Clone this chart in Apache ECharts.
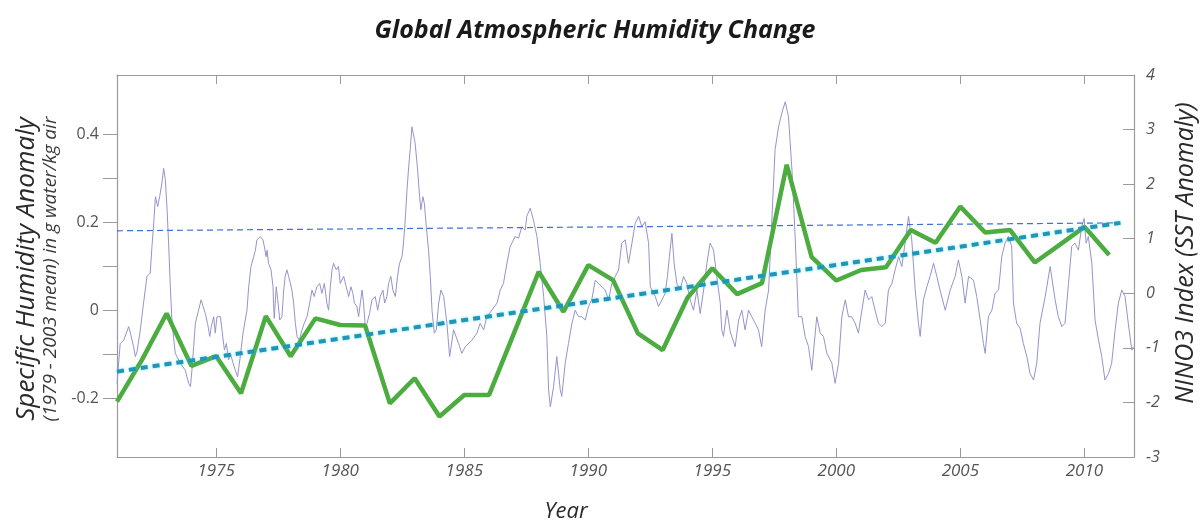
<!DOCTYPE html>
<html>
<head>
<meta charset="utf-8">
<script src="https://cdn.jsdelivr.net/npm/echarts@6/dist/echarts.min.js"></script>
<style>html,body{margin:0;padding:0;background:#fff}#c{width:1203px;height:525px}</style>
</head>
<body>
<div id="c"></div>
<script>
// Annual global specific humidity anomaly (left axis, g/kg)
var humidityYears = [1971,1972,1973,1974,1975,1976,1977,1978,1979,1980,1981,1982,1983,1984,1985,1986,1987,1988,1989,1990,1991,1992,1993,1994,1995,1996,1997,1998,1999,2000,2001,2002,2003,2004,2005,2006,2007,2008,2009,2010,2011];
var humidityValues = [-0.208,-0.114,-0.008,-0.127,-0.105,-0.189,-0.014,-0.105,-0.019,-0.034,-0.035,-0.212,-0.155,-0.242,-0.193,-0.193,-0.053,0.087,-0.004,0.102,0.068,-0.053,-0.091,0.028,0.095,0.036,0.061,0.330,0.121,0.067,0.091,0.097,0.182,0.153,0.235,0.176,0.182,0.108,0.148,0.189,0.125];

// NINO3 index (right axis, SST anomaly)
var ninoTime = [1971.00,1971.13,1971.27,1971.47,1971.54,1971.67,1971.74,1971.81,1971.94,1972.07,1972.21,1972.34,1972.41,1972.48,1972.55,1972.64,1972.72,1972.81,1972.88,1972.95,1973.02,1973.08,1973.15,1973.22,1973.35,1973.55,1973.75,1973.89,1973.96,1974.02,1974.09,1974.16,1974.22,1974.29,1974.39,1974.47,1974.56,1974.65,1974.74,1974.80,1974.90,1974.96,1975.03,1975.17,1975.23,1975.33,1975.41,1975.50,1975.57,1975.68,1975.77,1975.86,1975.97,1976.08,1976.17,1976.24,1976.31,1976.40,1976.51,1976.58,1976.64,1976.78,1976.88,1976.94,1977.01,1977.05,1977.11,1977.21,1977.29,1977.31,1977.34,1977.42,1977.48,1977.56,1977.65,1977.72,1977.78,1977.85,1977.92,1977.99,1978.05,1978.12,1978.19,1978.26,1978.35,1978.46,1978.55,1978.66,1978.77,1978.86,1978.95,1979.06,1979.17,1979.26,1979.36,1979.46,1979.53,1979.60,1979.67,1979.73,1979.84,1979.93,1980.00,1980.14,1980.24,1980.34,1980.43,1980.51,1980.57,1980.67,1980.74,1980.81,1980.88,1980.94,1981.01,1981.08,1981.18,1981.28,1981.41,1981.51,1981.61,1981.72,1981.79,1981.88,1981.95,1982.04,1982.12,1982.22,1982.31,1982.39,1982.49,1982.55,1982.62,1982.69,1982.76,1982.82,1982.89,1982.96,1983.02,1983.12,1983.20,1983.25,1983.33,1983.39,1983.47,1983.56,1983.63,1983.70,1983.79,1983.87,1983.97,1984.06,1984.17,1984.30,1984.41,1984.57,1984.77,1984.90,1985.04,1985.31,1985.51,1985.64,1985.78,1985.91,1986.11,1986.32,1986.45,1986.58,1986.72,1986.85,1986.92,1987.05,1987.19,1987.32,1987.46,1987.52,1987.66,1987.79,1987.93,1988.06,1988.20,1988.33,1988.40,1988.47,1988.60,1988.73,1988.87,1988.93,1989.07,1989.20,1989.34,1989.47,1989.61,1989.74,1989.88,1990.01,1990.14,1990.28,1990.41,1990.55,1990.68,1990.82,1990.95,1991.22,1991.35,1991.49,1991.62,1991.76,1991.89,1992.03,1992.16,1992.29,1992.43,1992.50,1992.70,1992.83,1992.97,1993.10,1993.19,1993.27,1993.37,1993.46,1993.57,1993.70,1993.84,1993.97,1994.11,1994.24,1994.38,1994.51,1994.65,1994.78,1994.91,1995.05,1995.18,1995.32,1995.38,1995.45,1995.59,1995.72,1995.92,1996.06,1996.19,1996.32,1996.46,1996.59,1996.73,1996.86,1996.99,1997.13,1997.27,1997.40,1997.53,1997.67,1997.80,1997.94,1998.07,1998.21,1998.34,1998.47,1998.61,1998.74,1998.88,1999.01,1999.21,1999.35,1999.48,1999.62,1999.82,1999.95,2000.09,2000.22,2000.36,2000.49,2000.62,2000.76,2000.89,2001.03,2001.16,2001.30,2001.43,2001.56,2001.70,2001.83,2001.97,2002.10,2002.24,2002.37,2002.51,2002.64,2002.77,2002.91,2003.04,2003.18,2003.31,2003.38,2003.51,2003.65,2003.78,2003.92,2004.05,2004.18,2004.39,2004.59,2004.79,2004.92,2005.06,2005.19,2005.33,2005.53,2005.66,2005.80,2005.93,2006.00,2006.13,2006.27,2006.40,2006.54,2006.67,2006.80,2006.94,2007.07,2007.14,2007.27,2007.41,2007.54,2007.68,2007.81,2007.95,2008.08,2008.21,2008.42,2008.62,2008.82,2008.95,2009.09,2009.22,2009.36,2009.49,2009.62,2009.76,2009.89,2009.99,2010.07,2010.16,2010.30,2010.43,2010.57,2010.70,2010.83,2010.97,2011.10,2011.24,2011.37,2011.51,2011.64,2011.77,2011.91,2011.97];
var ninoValues = [-1.65,-0.92,-0.86,-0.61,-0.73,-0.98,-1.16,-1.07,-0.67,-0.18,0.31,0.37,0.86,1.28,1.77,1.59,1.77,2.02,2.29,2.08,1.53,0.92,0.12,-0.55,-1.10,-1.28,-1.41,-1.65,-1.71,-1.41,-0.98,-0.55,-0.43,-0.31,-0.12,-0.24,-0.37,-0.55,-0.79,-0.61,-0.43,-0.73,-0.43,-0.43,-0.67,-1.04,-0.92,-1.22,-1.10,-1.28,-1.41,-1.53,-1.16,-0.73,-0.49,-0.31,0.12,0.49,0.67,0.79,0.98,1.04,0.98,0.86,0.67,0.79,0.55,0.43,0.12,-0.18,-0.46,0.12,-0.12,-0.49,-0.43,0.06,0.31,0.43,0.31,0.18,0.06,-0.18,-0.55,-0.79,-0.86,-0.67,-0.55,-0.43,-0.18,0.06,-0.06,0.12,0.18,0.00,0.18,-0.18,-0.31,0.12,0.43,0.55,0.43,0.49,0.18,0.31,0.12,-0.06,0.12,0.00,-0.18,-0.24,-0.43,-0.18,0.06,-0.18,-0.61,-0.55,-0.37,-0.12,-0.06,-0.31,-0.06,0.06,-0.18,-0.06,0.18,0.31,0.06,-0.06,0.31,0.55,0.67,0.92,1.34,1.89,2.32,2.63,3.05,3.08,2.75,2.26,1.77,1.53,1.77,1.65,1.22,0.79,0.31,-0.31,-0.73,-0.67,-0.18,0.06,-0.06,-0.55,-1.16,-0.67,-0.92,-1.10,-0.98,-0.86,-0.73,-0.55,-0.67,-0.43,-0.31,-0.18,0.06,0.18,0.55,0.86,0.92,1.04,1.01,1.22,1.16,1.41,1.56,1.34,1.04,0.55,-0.06,-0.79,-1.77,-2.08,-1.71,-1.16,-1.77,-1.89,-1.28,-0.92,-0.55,-0.31,-0.43,-0.43,-0.49,-0.24,-0.12,0.24,0.18,0.12,0.06,-0.12,0.18,0.43,0.92,0.98,0.55,0.92,1.28,1.41,1.22,1.31,0.92,0.12,-0.06,-0.24,-0.12,0.00,0.31,0.67,1.10,0.55,0.18,0.06,0.31,0.18,-0.12,-0.31,0.06,-0.37,0.06,0.55,0.92,0.79,0.31,-0.18,-0.67,-0.79,-0.31,-0.70,-0.98,-0.49,-0.31,-0.67,-0.31,-0.43,-0.55,-0.67,-0.98,-0.31,0.06,1.34,2.63,3.05,3.30,3.51,3.24,2.26,1.04,-0.43,-0.43,-0.79,-0.98,-1.41,-0.43,-0.73,-0.79,-1.10,-1.28,-1.65,-1.28,-0.43,-0.12,-0.43,-0.43,-0.55,-0.73,-0.31,0.06,-0.12,-0.06,-0.31,-0.55,-0.61,-0.55,0.06,0.18,0.43,0.67,0.49,0.92,1.41,0.98,0.06,-0.55,-0.79,-0.12,0.12,0.31,0.55,0.31,0.06,-0.31,0.06,0.31,0.61,0.31,-0.18,0.31,0.24,-0.06,-0.49,-0.92,-1.10,-0.43,-0.31,0.00,0.06,0.67,0.92,1.04,0.86,-0.18,-0.55,-0.64,-0.92,-1.16,-1.47,-1.59,-1.28,-0.55,-0.06,0.49,-0.12,-0.43,-0.61,-0.55,0.18,0.86,0.92,0.79,1.22,1.37,0.92,1.04,0.55,-0.49,-0.86,-1.16,-1.59,-1.47,-1.28,-0.67,-0.18,0.06,-0.06,-0.55,-1.04,-0.98];

// Linear trend of humidity anomaly (left axis)
var trendX = [1971, 2011.45];
var trendY = [-0.140, 0.198];
// Thin dashed reference line (left axis)
var refX = [1971, 2011.45];
var refY = [0.180, 0.198];

// Tick labels
var yearTicks = [1975, 1980, 1985, 1990, 1995, 2000, 2005, 2010];
var leftTicks = [-0.2, -0.1, 0, 0.1, 0.2, 0.3, 0.4];
var leftLabels = [-0.2, 0, 0.2, 0.4];

function zip(a, b) { return a.map(function (v, i) { return [v, b[i]]; }); }

var chart = echarts.init(document.getElementById('c'), null, { renderer: 'canvas' });
var axisGray = '#9b9b9b';
var labelGray = '#555';
var FONT = 'Open Sans';

chart.setOption({
  animation: false,
  backgroundColor: '#fff',
  title: {
    text: 'Global Atmospheric Humidity Change',
    left: 590, top: 13, textAlign: 'center',
    textStyle: { fontFamily: FONT, fontStyle: 'italic', fontWeight: 'bold', fontSize: 25, color: '#1a1a1a' }
  },
  grid: { left: 117, right: 69, top: 75, bottom: 68 },
  xAxis: [{
    type: 'value', min: 1971, max: 2012, position: 'bottom',
    axisLine: { show: true, onZero: false, lineStyle: { color: axisGray, width: 1.2 } },
    axisTick: { show: true, inside: true, length: 9, customValues: yearTicks, lineStyle: { color: axisGray } },
    axisLabel: { customValues: yearTicks, fontFamily: FONT, fontStyle: 'italic', fontSize: 17, color: labelGray, margin: 6,
      formatter: function (v) { return String(Math.round(v)); } },
    splitLine: { show: false }
  }, {
    type: 'value', min: 1971, max: 2012, position: 'top',
    axisLine: { show: true, onZero: false, lineStyle: { color: axisGray, width: 1.2 } },
    axisTick: { show: true, inside: true, length: 9, customValues: yearTicks, lineStyle: { color: axisGray } },
    axisLabel: { show: false },
    splitLine: { show: false }
  }],
  yAxis: [{
    type: 'value', min: -0.334, max: 0.534, position: 'left',
    axisLine: { show: true, onZero: false, lineStyle: { color: axisGray, width: 1.2 } },
    axisTick: { show: true, inside: false, length: 14, customValues: leftTicks, lineStyle: { color: axisGray } },
    axisLabel: {
      customValues: leftLabels, fontFamily: FONT, fontSize: 16, color: labelGray, margin: 18,
      formatter: function (v) { return Math.abs(v) < 1e-9 ? '0' : (+v).toFixed(1); }
    },
    splitLine: { show: false }
  }, {
    type: 'value', min: -3, max: 4, interval: 1, position: 'right',
    axisLine: { show: true, onZero: false, lineStyle: { color: axisGray, width: 1.2 } },
    axisTick: { show: true, inside: true, length: 11, lineStyle: { color: axisGray } },
    axisLabel: { fontFamily: FONT, fontStyle: 'italic', fontSize: 16, color: labelGray, margin: 12 },
    splitLine: { show: false }
  }],
  graphic: [
    { type: 'text', x: 27, y: 269, rotation: Math.PI / 2,
      style: { text: 'Specific Humidity Anomaly', font: 'italic 26px "Open Sans"', fill: '#2a2a2a', align: 'center', verticalAlign: 'middle', textAlign: 'center', textVerticalAlign: 'middle' } },
    { type: 'text', x: 51, y: 269, rotation: Math.PI / 2,
      style: { text: '(1979 - 2003 mean) in g water/kg air', font: 'italic 19px "Open Sans"', fill: '#3a3a3a', align: 'center', verticalAlign: 'middle', textAlign: 'center', textVerticalAlign: 'middle' } },
    { type: 'text', x: 1186, y: 253, rotation: Math.PI / 2,
      style: { text: 'NINO3 Index (SST Anomaly)', font: 'italic 25px "Open Sans"', fill: '#2a2a2a', align: 'center', verticalAlign: 'middle', textAlign: 'center', textVerticalAlign: 'middle' } },
    { type: 'text', x: 566, y: 512,
      style: { text: 'Year', font: 'italic 22px "Open Sans"', fill: '#2a2a2a', align: 'center', verticalAlign: 'middle', textAlign: 'center', textVerticalAlign: 'middle' } }
  ],
  series: [{
    name: 'NINO3', type: 'line', xAxisIndex: 0, yAxisIndex: 1,
    data: zip(ninoTime, ninoValues), showSymbol: false, symbol: 'none',
    lineStyle: { color: '#9494cc', width: 1 }, z: 1
  }, {
    name: 'Reference', type: 'line', xAxisIndex: 0, yAxisIndex: 0,
    data: zip(refX, refY), showSymbol: false, symbol: 'none',
    lineStyle: { color: '#3f6fd8', width: 1.2, type: [6, 4] }, z: 2
  }, {
    name: 'Humidity', type: 'line', xAxisIndex: 0, yAxisIndex: 0,
    data: zip(humidityYears, humidityValues), showSymbol: false, symbol: 'none',
    lineStyle: { color: '#4cac40', width: 4.5 }, z: 3
  }, {
    name: 'Trend', type: 'line', xAxisIndex: 0, yAxisIndex: 0,
    data: zip(trendX, trendY), showSymbol: false, symbol: 'none',
    lineStyle: { color: '#2095b8', width: 4, type: [7, 5], shadowColor: 'rgba(60,220,240,0.7)', shadowBlur: 3 }, z: 4
  }]
});
</script>
</body>
</html>
